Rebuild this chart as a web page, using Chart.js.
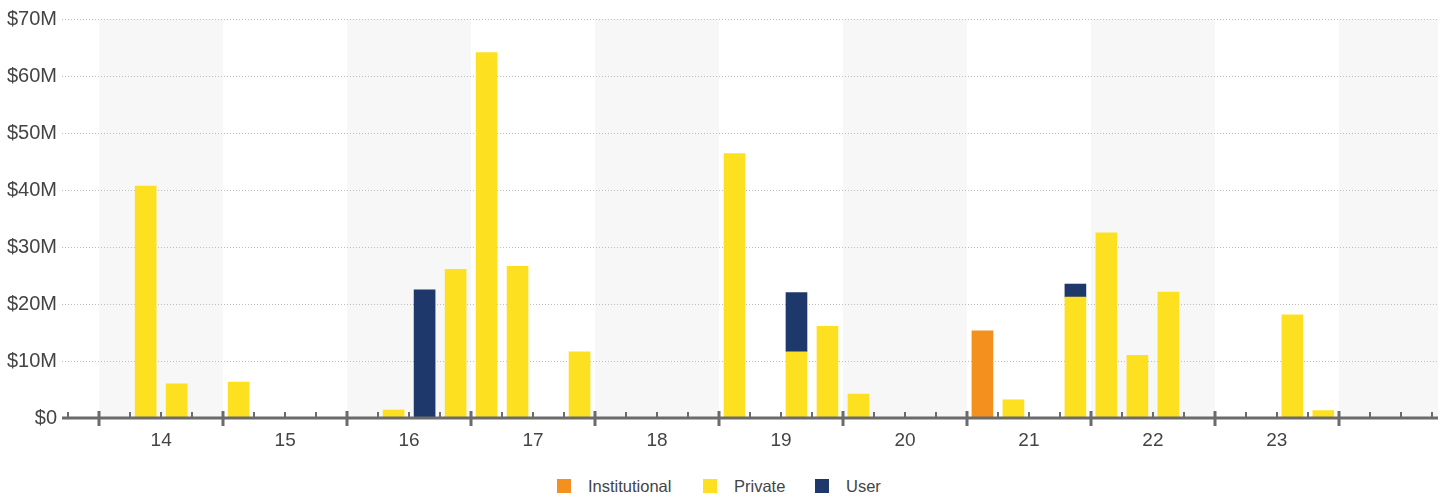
<!DOCTYPE html>
<html>
<head>
<meta charset="utf-8">
<title>Investment by quarter</title>
<script src="https://cdn.jsdelivr.net/npm/chart.js@4.4.1/dist/chart.umd.min.js"></script>
<style>
  html, body { margin: 0; padding: 0; background: #fff; }
  #wrap { position: relative; width: 1445px; height: 498px; overflow: hidden; }
  #chart { position: absolute; left: 0; top: 0; }
  .legend-item {
    position: absolute; top: 477px; height: 18px;
    display: flex; align-items: center;
    font: 16.5px "Liberation Sans", Arial, sans-serif; color: #444; white-space: nowrap;
  }
  .legend-item i { display: inline-block; width: 14px; height: 14px; margin-right: 17px; }
</style>
</head>
<body>
<div id="wrap">
  <canvas id="chart" width="1445" height="470"></canvas>
  <div class="legend-item" style="left:557px"><i style="background:#F4901E"></i>Institutional</div>
  <div class="legend-item" style="left:703px"><i style="background:#FDE020"></i>Private</div>
  <div class="legend-item" style="left:815px"><i style="background:#1F386B"></i>User</div>
</div>
<script>
// One slot per quarter, from Q4 2013 through Q3 2024
const quarters = [
  '13Q4',
  '14Q1', '14Q2', '14Q3', '14Q4',
  '15Q1', '15Q2', '15Q3', '15Q4',
  '16Q1', '16Q2', '16Q3', '16Q4',
  '17Q1', '17Q2', '17Q3', '17Q4',
  '18Q1', '18Q2', '18Q3', '18Q4',
  '19Q1', '19Q2', '19Q3', '19Q4',
  '20Q1', '20Q2', '20Q3', '20Q4',
  '21Q1', '21Q2', '21Q3', '21Q4',
  '22Q1', '22Q2', '22Q3', '22Q4',
  '23Q1', '23Q2', '23Q3', '23Q4',
  '24Q1', '24Q2', '24Q3'
];

// Year labels shown under the axis (centre of each year)
const yearLabels = ['14', '15', '16', '17', '18', '19', '20', '21', '22', '23'];

// Amounts in $M per quarter (null = none)
const institutional = [
  null,
  null, null, null, null,
  null, null, null, null,
  null, null, null, null,
  null, null, null, null,
  null, null, null, null,
  null, null, null, null,
  null, null, null, null,
  15.3, null, null, null,
  null, null, null, null,
  null, null, null, null,
  null, null, null
];
const privateFunding = [
  null,
  null, 40.7, 6.0, null,
  6.3, null, null, null,
  null, 1.4, null, 26.1,
  64.1, 26.6, null, 11.6,
  null, null, null, null,
  46.4, null, 11.6, 16.1,
  4.2, null, null, null,
  null, 3.2, null, 21.2,
  32.5, 11.0, 22.1, null,
  null, null, 18.1, 1.3,
  null, null, null
];
const user = [
  null,
  null, null, null, null,
  null, null, null, null,
  null, null, 22.5, null,
  null, null, null, null,
  null, null, null, null,
  null, null, 10.4, null,
  null, null, null, null,
  null, null, null, 2.3,
  null, null, null, null,
  null, null, null, null,
  null, null, null
];

const yTicks = [0, 10, 20, 30, 40, 50, 60, 70];

const COLORS = { institutional: '#F4901E', private: '#FDE020', user: '#1F386B' };
const X_MIN = -0.7, X_MAX = quarters.length - 0.3;

function toPoints(arr) {
  return arr.map((v, i) => ({ x: i, y: v }));
}

// Alternating year bands, quarter tick marks and the base axis line
const yearAxisDecor = {
  id: 'yearAxisDecor',
  beforeDraw(chart) {
    const { ctx, chartArea: a, scales: { x } } = chart;
    ctx.save();
    ctx.fillStyle = '#f7f7f7';
    for (let n = 0; 0.5 + 4 * n < X_MAX; n += 2) {
      const s = 0.5 + 4 * n;
      const e = Math.min(s + 4, X_MAX);
      const px0 = x.getPixelForValue(s);
      const px1 = x.getPixelForValue(e);
      ctx.fillRect(px0, a.top, px1 - px0, a.bottom - a.top);
    }
    ctx.restore();
  },
  afterDraw(chart) {
    const { ctx, chartArea: a, scales: { x } } = chart;
    const base = a.bottom;
    ctx.save();
    ctx.strokeStyle = '#6b6b6b';
    ctx.lineWidth = 3;
    ctx.beginPath();
    ctx.moveTo(a.left, base);
    ctx.lineTo(a.right, base);
    ctx.stroke();
    for (let k = 0; k <= quarters.length; k++) {
      const v = k - 0.5;
      const px = Math.round(x.getPixelForValue(v));
      const major = (k - 1) % 4 === 0;
      ctx.beginPath();
      if (major) {
        ctx.lineWidth = 3;
        ctx.moveTo(px, base - 7);
        ctx.lineTo(px, base + 8);
      } else {
        ctx.lineWidth = 2;
        ctx.moveTo(px, base - 6);
        ctx.lineTo(px, base);
      }
      ctx.stroke();
    }
    ctx.restore();
  }
};

Chart.defaults.font.family = '"Liberation Sans", Arial, sans-serif';
Chart.defaults.color = '#444';

new Chart(document.getElementById('chart'), {
  type: 'bar',
  data: {
    datasets: [
      { label: 'Institutional', data: toPoints(institutional), backgroundColor: COLORS.institutional },
      { label: 'Private', data: toPoints(privateFunding), backgroundColor: COLORS.private },
      { label: 'User', data: toPoints(user), backgroundColor: COLORS.user }
    ]
  },
  options: {
    responsive: false,
    animation: false,
    barThickness: 21,
    layout: { padding: { left: 0, right: 7, top: 19, bottom: 0 } },
    plugins: {
      legend: { display: false },
      tooltip: { enabled: false }
    },
    scales: {
      x: {
        type: 'linear',
        stacked: true,
        offset: false,
        min: X_MIN,
        max: X_MAX,
        grid: { display: false, drawTicks: false, offset: false },
        border: { display: false },
        afterBuildTicks(scale) {
          scale.ticks = yearLabels.map((_, n) => ({ value: 2.5 + 4 * n }));
        },
        ticks: {
          padding: 11,
          font: { size: 19 },
          color: '#444',
          maxRotation: 0,
          autoSkip: false,
          callback: (value) => yearLabels[Math.round((value - 2.5) / 4)]
        },
        afterFit(scale) { scale.height = 52; }
      },
      y: {
        stacked: true,
        min: 0,
        max: 70,
        afterBuildTicks(scale) {
          scale.ticks = yTicks.map(v => ({ value: v }));
        },
        grid: { color: '#bdbdbd', lineWidth: 1, drawTicks: false },
        border: { display: false, dash: [1, 2] },
        ticks: {
          padding: 5,
          font: { size: 20 },
          color: '#444',
          callback: (v) => v === 0 ? '$0' : '$' + v + 'M'
        },
        afterFit(scale) { scale.width = 62; }
      }
    }
  },
  plugins: [yearAxisDecor]
});
</script>
</body>
</html>
